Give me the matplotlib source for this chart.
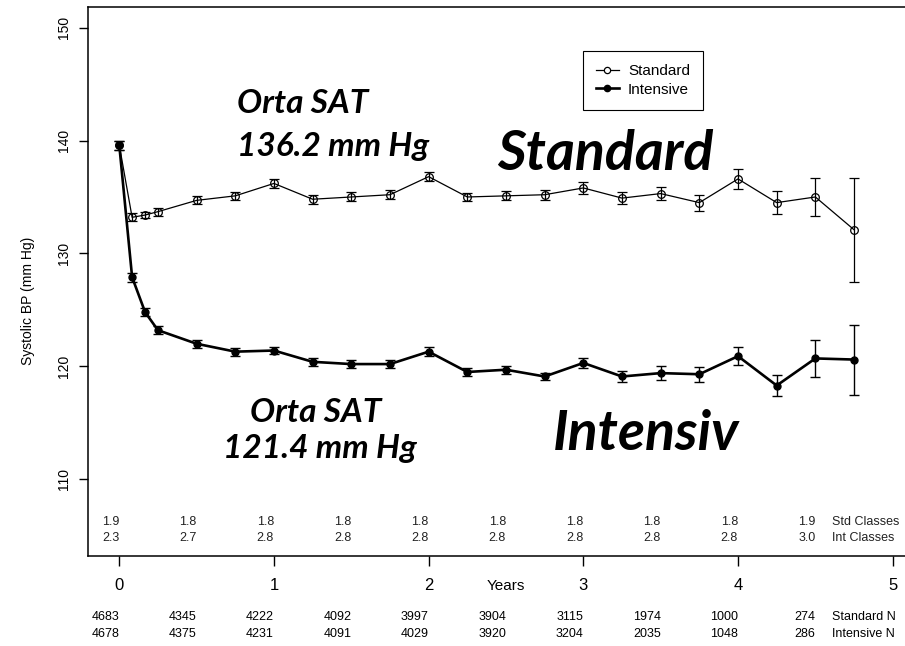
import matplotlib
matplotlib.use("Agg")
import matplotlib.pyplot as plt
from matplotlib.lines import Line2D
from matplotlib.transforms import blended_transform_factory

plt.rcParams["font.family"] = ["Liberation Sans", "DejaVu Sans"]

# visit times in years (monthly for the first quarter, then quarterly)
years = [0, 0.083, 0.167, 0.25, 0.5, 0.75, 1.0, 1.25, 1.5, 1.75, 2.0, 2.25,
         2.5, 2.75, 3.0, 3.25, 3.5, 3.75, 4.0, 4.25, 4.5, 4.75]

std_sbp = [139.6, 133.2, 133.4, 133.7, 134.7, 135.1, 136.2, 134.8, 135.0, 135.2, 136.8, 135.0,
           135.1, 135.2, 135.8, 134.9, 135.3, 134.5, 136.6, 134.5, 135.0, 132.1]
std_ci = [0.4, 0.35, 0.3, 0.35, 0.35, 0.35, 0.4, 0.4, 0.4, 0.4, 0.4, 0.35,
          0.4, 0.45, 0.5, 0.55, 0.6, 0.7, 0.9, 1.05, 1.65, 4.6]

int_sbp = [139.6, 127.9, 124.8, 123.2, 122.0, 121.3, 121.4, 120.4, 120.2, 120.2, 121.3, 119.5,
           119.7, 119.1, 120.3, 119.1, 119.4, 119.3, 120.9, 118.3, 120.7, 120.6]
int_ci = [0.4, 0.4, 0.35, 0.35, 0.35, 0.35, 0.35, 0.35, 0.35, 0.35, 0.4, 0.35,
          0.35, 0.35, 0.45, 0.5, 0.6, 0.65, 0.8, 0.95, 1.65, 3.1]

# mean number of drug classes and patients at risk, every half year
table_years = [0, 0.5, 1.0, 1.5, 2.0, 2.5, 3.0, 3.5, 4.0, 4.5]
std_classes = ["1.9", "1.8", "1.8", "1.8", "1.8", "1.8", "1.8", "1.8", "1.8", "1.9"]
int_classes = ["2.3", "2.7", "2.8", "2.8", "2.8", "2.8", "2.8", "2.8", "2.8", "3.0"]
std_n = [4683, 4345, 4222, 4092, 3997, 3904, 3115, 1974, 1000, 274]
int_n = [4678, 4375, 4231, 4091, 4029, 3920, 3204, 2035, 1048, 286]

fig = plt.figure(figsize=(9.05, 6.46), dpi=100)
ax = fig.add_axes([0.0976, 0.1393, 0.923, 0.8494])
ax.set_xlim(-0.2, 5.2)
ax.set_ylim(103.2, 151.8)

ax.errorbar(years, std_sbp, yerr=std_ci, fmt="-o", color="black", mfc="none", mec="black",
            ms=5.5, mew=0.9, lw=0.9, elinewidth=0.9, capsize=3.5, capthick=0.9, zorder=3)
ax.errorbar(years, int_sbp, yerr=int_ci, fmt="-o", color="black", mfc="black", mec="black",
            ms=5, lw=1.9, elinewidth=1.0, capsize=3.5, capthick=1.0, zorder=4)

for side in ["top", "right", "left", "bottom"]:
    ax.spines[side].set_linewidth(1.1)

ax.set_xticks([0, 1, 2, 3, 4, 5])
ax.set_yticks([110, 120, 130, 140, 150])
ax.tick_params(axis="x", length=7, width=1, labelsize=12, pad=9)
ax.tick_params(axis="y", length=6.5, width=1, labelsize=10, pad=6, labelrotation=90)
for lbl in ax.get_yticklabels():
    lbl.set_va("center")

fig.text(0.031, 0.535, "Systolic BP (mm Hg)", rotation=90, ha="center", va="center", fontsize=10)

trans = blended_transform_factory(ax.transData, ax.transAxes)
ax.text(2.5, -0.054, "Years", transform=trans, ha="center", va="center", fontsize=11)

for x, s, i in zip(table_years, std_classes, int_classes):
    ax.text(x, 106.2, s, ha="right", va="center", fontsize=9, color="#222222")
    ax.text(x, 104.8, i, ha="right", va="center", fontsize=9, color="#222222")
ax.text(4.61, 106.2, "Std Classes", ha="left", va="center", fontsize=9, color="#222222")
ax.text(4.61, 104.8, "Int Classes", ha="left", va="center", fontsize=9, color="#222222")

for x, s, i in zip(table_years, std_n, int_n):
    ax.text(x, -0.111, str(s), transform=trans, ha="right", va="center", fontsize=9)
    ax.text(x, -0.142, str(i), transform=trans, ha="right", va="center", fontsize=9)
ax.text(4.61, -0.111, "Standard N", transform=trans, ha="left", va="center", fontsize=9)
ax.text(4.61, -0.142, "Intensive N", transform=trans, ha="left", va="center", fontsize=9)

# big annotations with the mean on-treatment SBP
big = dict(family=["Lato", "DejaVu Sans"], fontweight="bold", fontstyle="italic", va="baseline")
ax.text(0.76, 142.4, "Orta SAT", fontsize=24, ha="left", **big)
ax.text(0.76, 138.6, "136.2 mm Hg", fontsize=24, ha="left", **big)
ax.text(2.44, 137.4, "Standard", fontsize=40, ha="left", **big)
ax.text(1.27, 115.1, "Orta SAT", fontsize=24, ha="center", **big)
ax.text(1.30, 111.9, "121.4 mm Hg", fontsize=24, ha="center", **big)
ax.text(2.80, 112.6, "Intensiv", fontsize=40, ha="left", **big)

handles = [
    Line2D([], [], color="black", lw=0.9, marker="o", ms=4.5, mfc="white", mec="black", mew=0.9),
    Line2D([], [], color="black", lw=1.9, marker="o", ms=4.5, mfc="black", mec="black"),
]
leg = ax.legend(handles, ["Standard", "Intensive"], loc="upper left", bbox_to_anchor=(0.592, 0.920),
                borderaxespad=0, fancybox=False, framealpha=1, edgecolor="black", fontsize=11,
                handlelength=1.5, handletextpad=0.6, borderpad=0.85, labelspacing=0.3)
leg.get_frame().set_linewidth(0.8)

fig.savefig("out.png", dpi=100)
